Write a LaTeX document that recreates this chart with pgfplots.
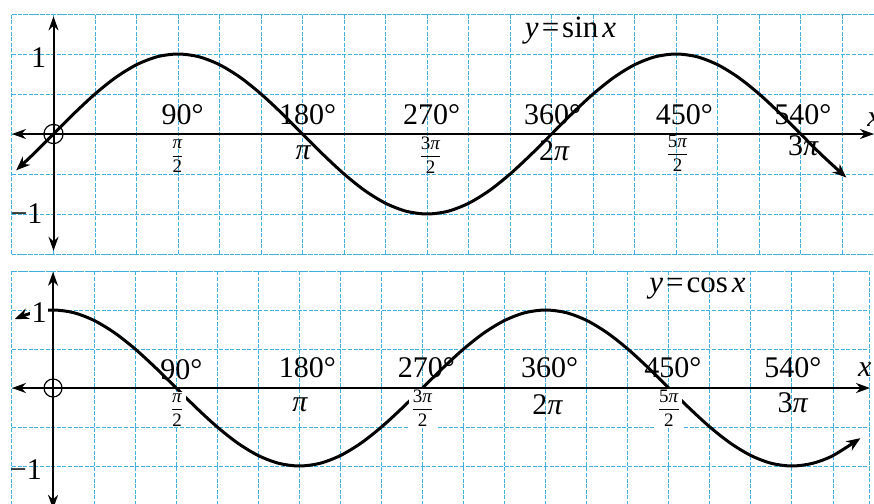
\documentclass[border=0pt]{standalone}
\usepackage{fontspec}
\setmainfont{Liberation Serif}
\usepackage{pgfplots}
\pgfplotsset{compat=1.18}
\usetikzlibrary{arrows.meta}
\definecolor{gridblue}{RGB}{62,176,226}

% fraction labels such as pi/2
\newcommand{\fr}[1]{$\displaystyle\frac{\mbox{#1}}{\mbox{2}}$}
\newcommand{\p}{\textit{π}}

\pgfplotsset{
  trig/.style={
    scale only axis, xmin=-30, ymin=-1.5, ymax=1.5,
    xtick={-30,0,...,600}, ytick={-1.5,-1,...,1.5},
    xticklabels={}, yticklabels={}, major tick length=0pt,
    grid=major,
    grid style={gridblue, dash pattern=on 2pt off 0.8pt, line width=0.5pt},
    axis line style={gridblue, dash pattern=on 2pt off 0.8pt, line width=0.5pt},
    clip=false,
  },
}
\tikzset{
  lbl/.style={font=\fontsize{15}{17}\selectfont, inner sep=0pt},
  ttl/.style={font=\fontsize{15.5}{17}\selectfont, inner sep=0pt},
  frl/.style={font=\fontsize{9.5}{10}\selectfont, inner sep=0.6pt},
  ax/.style={black, line width=1pt, {Stealth[length=7pt,width=5pt]}-{Stealth[length=7pt,width=5pt]}},
  curve/.style={black, line width=1.5pt, smooth, {Stealth[length=7pt,width=5.5pt]}-{Stealth[length=7pt,width=5.5pt]}},
}

\begin{document}
\begin{tikzpicture}
\useasboundingbox (0,0) rectangle (437pt,-252pt);

% y = sin x
\begin{axis}[trig, at={(6pt,-7pt)}, anchor=north west, width=431pt, height=120pt, xmax=593]
  \draw[ax] (axis cs:-30,0) -- (axis cs:593,0);
  \draw[ax] (axis cs:0,-1.46) -- (axis cs:0,1.47);
  \addplot[curve] coordinates {
    (-27,-0.4540) (-15,-0.2588) (0,0) (15,0.2588) (30,0.5) (45,0.7071) (60,0.8660)
    (75,0.9659) (90,1) (105,0.9659) (120,0.8660) (135,0.7071) (150,0.5) (165,0.2588)
    (180,0) (195,-0.2588) (210,-0.5) (225,-0.7071) (240,-0.8660) (255,-0.9659)
    (270,-1) (285,-0.9659) (300,-0.8660) (315,-0.7071) (330,-0.5) (345,-0.2588)
    (360,0) (375,0.2588) (390,0.5) (405,0.7071) (420,0.8660) (435,0.9659) (450,1)
    (465,0.9659) (480,0.8660) (495,0.7071) (510,0.5) (525,0.2588) (540,0)
    (555,-0.2588) (573,-0.5446)};
  \addplot[only marks, mark=o, mark size=4.8pt, mark options={black, line width=0.6pt}] coordinates {(0,0)};
  \node[lbl] at (axis cs:93.3,0.24) {90°};
  \node[lbl] at (axis cs:183.6,0.24) {180°};
  \node[lbl] at (axis cs:273.3,0.24) {270°};
  \node[lbl] at (axis cs:360.7,0.24) {360°};
  \node[lbl] at (axis cs:456,0.24) {450°};
  \node[lbl] at (axis cs:541.5,0.24) {540°};
  \node[frl] at (axis cs:89.6,-0.28) {\fr{\p}};
  \node[lbl] at (axis cs:180.7,-0.24) {\p};
  \node[frl] at (axis cs:272.5,-0.26) {\fr{3\p}};
  \node[lbl] at (axis cs:362,-0.21) {2\p};
  \node[frl] at (axis cs:451,-0.24) {\fr{5\p}};
  \node[lbl] at (axis cs:542,-0.15) {3\p};
  \node[ttl] at (axis cs:373.7,1.29) {\textit{y}\hspace{1.5pt}=\hspace{1.5pt}sin\hspace{2pt}\textit{x}};
  \node[lbl, anchor=west] at (axis cs:588,0.175) {\textit{x}};
  \node[lbl] at (axis cs:-10.8,0.96) {1};
  \node[lbl] at (axis cs:-19.5,-1.0) {−1};
\end{axis}

% y = cos x
\begin{axis}[trig, at={(6pt,-135.5pt)}, anchor=north west, width=429pt, height=117pt, xmax=597]
  \draw[ax] (axis cs:-30,0) -- (axis cs:597,0);
  \draw[ax] (axis cs:0,-1.55) -- (axis cs:0,1.49);
  \addplot[curve] coordinates {
    (-28,0.8829) (-15,0.9659) (0,1) (15,0.9659) (30,0.8660) (45,0.7071) (60,0.5)
    (75,0.2588) (90,0) (105,-0.2588) (120,-0.5) (135,-0.7071) (150,-0.8660)
    (165,-0.9659) (180,-1) (195,-0.9659) (210,-0.8660) (225,-0.7071) (240,-0.5)
    (255,-0.2588) (270,0) (285,0.2588) (300,0.5) (315,0.7071) (330,0.8660)
    (345,0.9659) (360,1) (375,0.9659) (390,0.8660) (405,0.7071) (420,0.5)
    (435,0.2588) (450,0) (465,-0.2588) (480,-0.5) (495,-0.7071) (510,-0.8660)
    (525,-0.9659) (540,-1) (555,-0.9659) (570,-0.8660) (590,-0.6428)};
  \addplot[only marks, mark=o, mark size=4.5pt, mark options={black, line width=0.6pt}] coordinates {(0,0)};
  \node[lbl] at (axis cs:93.7,0.23) {90°};
  \node[lbl] at (axis cs:185.8,0.256) {180°};
  \node[lbl] at (axis cs:272.9,0.256) {270°};
  \node[lbl] at (axis cs:362.9,0.256) {360°};
  \node[lbl] at (axis cs:452.9,0.256) {450°};
  \node[lbl] at (axis cs:540.7,0.256) {540°};
  \node[frl, fill=white] at (axis cs:90.7,-0.28) {\fr{\p}};
  \node[lbl] at (axis cs:180.7,-0.22) {\p};
  \node[frl, fill=white] at (axis cs:270,-0.26) {\fr{3\p}};
  \node[lbl] at (axis cs:361.5,-0.22) {2\p};
  \node[frl, fill=white] at (axis cs:450,-0.26) {\fr{5\p}};
  \node[lbl] at (axis cs:540.7,-0.19) {3\p};
  \node[ttl] at (axis cs:471,1.27) {\textit{y}\hspace{1.5pt}=\hspace{1.5pt}cos\hspace{2pt}\textit{x}};
  \node[lbl, anchor=west] at (axis cs:588,0.23) {\textit{x}};
  \node[lbl, fill=white, inner sep=0.8pt] at (axis cs:-10.2,0.97) {1};
  \node[lbl] at (axis cs:-19.8,-1.04) {−1};
\end{axis}
\end{tikzpicture}
\end{document}
